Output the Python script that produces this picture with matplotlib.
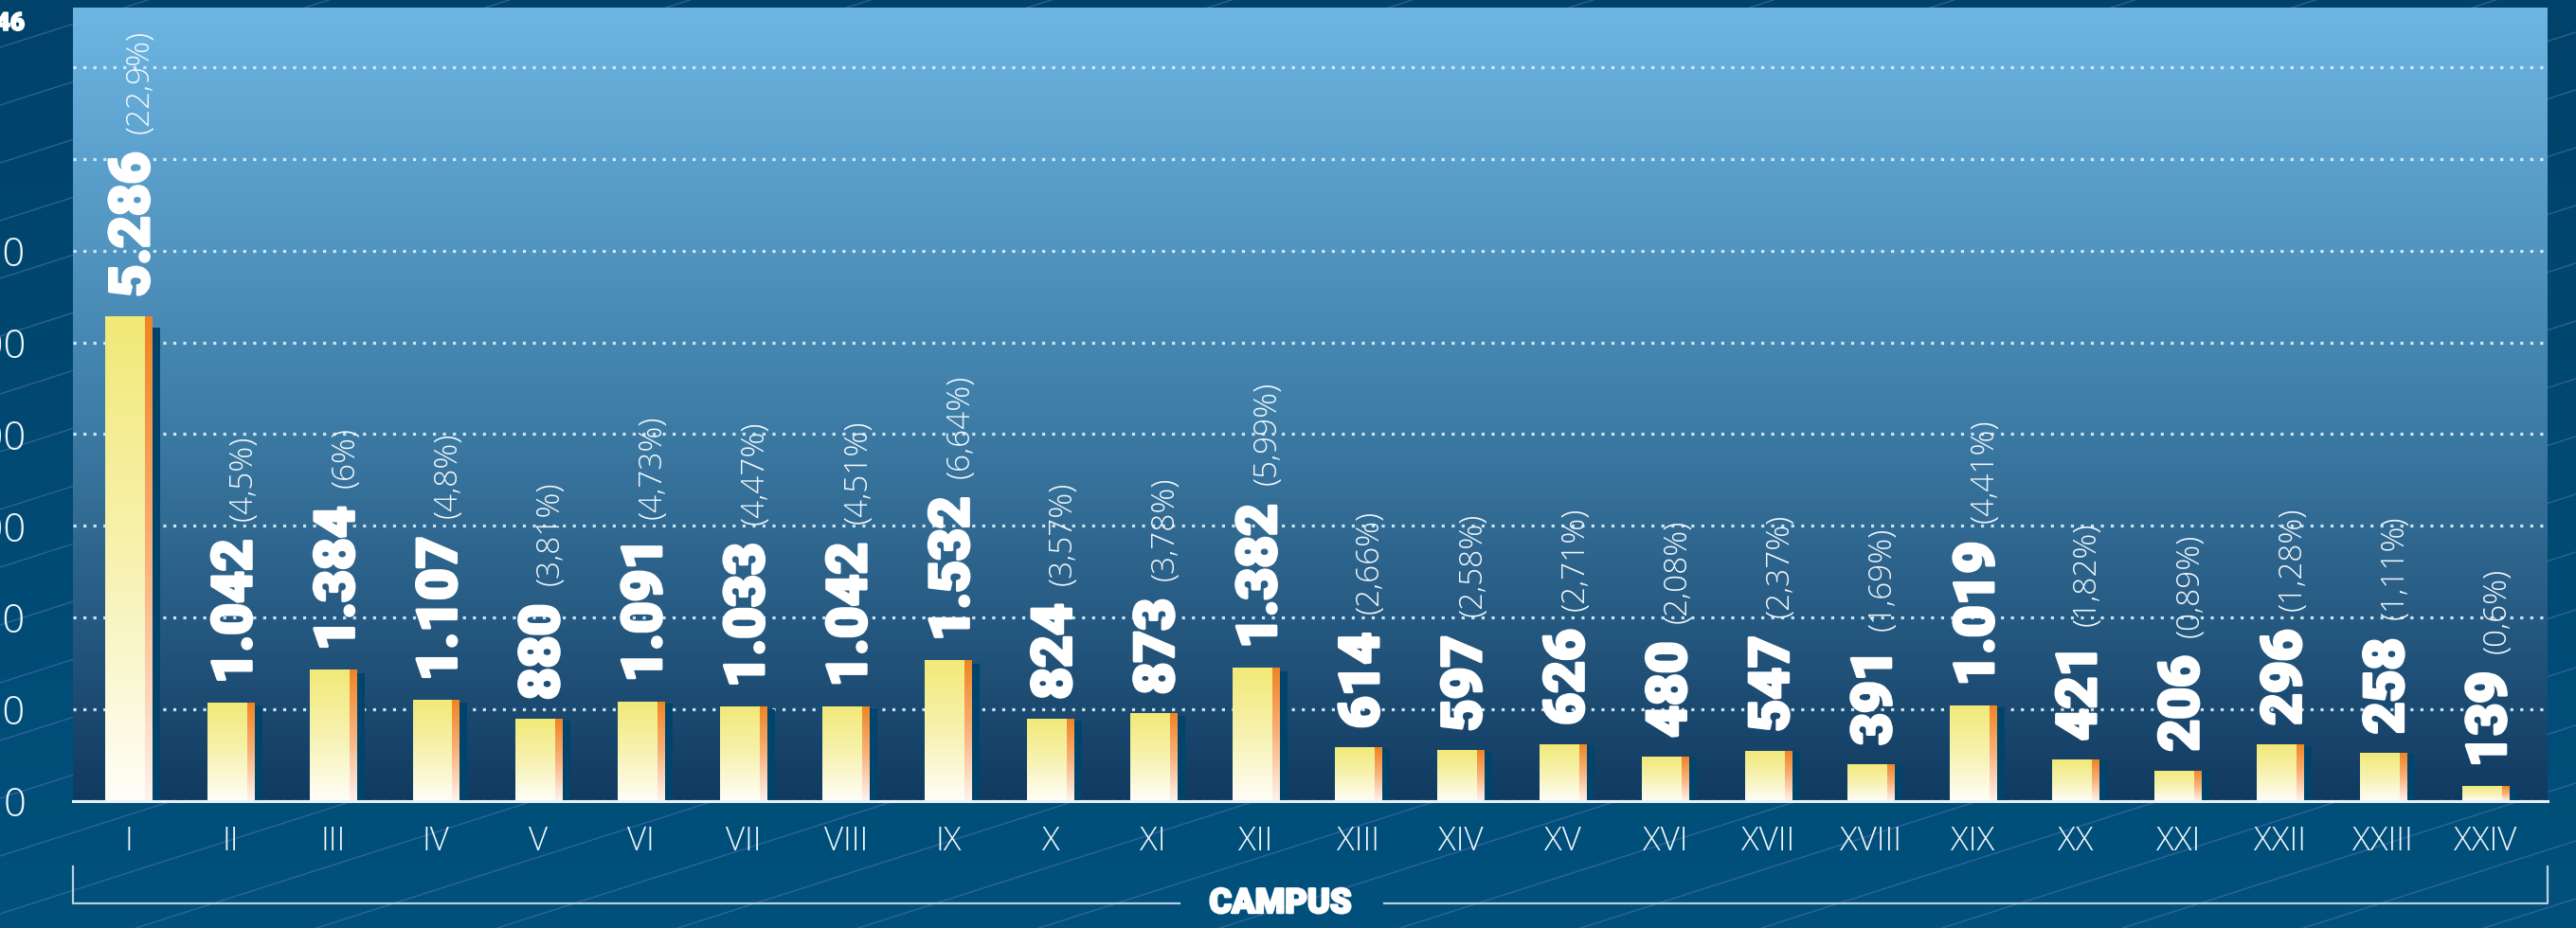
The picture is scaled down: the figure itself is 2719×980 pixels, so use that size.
import numpy as np
import matplotlib
matplotlib.use("Agg")
import matplotlib.pyplot as plt
import matplotlib.patheffects as pe
from matplotlib.colors import LinearSegmentedColormap

# ---------------- data ----------------
campus = ["I", "II", "III", "IV", "V", "VI", "VII", "VIII", "IX", "X", "XI", "XII",
          "XIII", "XIV", "XV", "XVI", "XVII", "XVIII", "XIX", "XX", "XXI", "XXII",
          "XXIII", "XXIV"]
# values printed on the labels
students = [5286, 1042, 1384, 1107, 880, 1091, 1033, 1042, 1532, 824, 873, 1382,
            614, 597, 626, 480, 547, 391, 1019, 421, 206, 296, 258, 139]
bar_heights = [5290, 1070, 1430, 1100, 895, 1087, 1029, 1035, 1535, 900, 955, 1455,
               585, 554, 622, 485, 550, 403, 1045, 451, 334, 619, 523, 160]
shares = [22.9, 4.5, 6, 4.8, 3.81, 4.73, 4.47, 4.51, 6.64, 3.57, 3.78, 5.99,
          2.66, 2.58, 2.71, 2.08, 2.37, 1.69, 4.41, 1.82, 0.89, 1.28, 1.11, 0.6]
y_ticks = [0, 1000, 2000, 3000, 4000, 5000, 6000, 7000, 8000]
y_tick_labels = ["0", "1.000", "2.000", "3.000", "4.000", "5.000", "6.000", "", ""]
total_label = "23.046"
axis_title = "CAMPUS"

# ---------------- figure ----------------
W, H = 2719, 980
fig = plt.figure(figsize=(W / 100, H / 100), dpi=100)
fig.patch.set_facecolor("#004b74")

grad = np.linspace(0, 1, 256).reshape(-1, 1)

# background with diagonal lines
bg = fig.add_axes([0, 0, 1, 1], zorder=-10)
bg_cmap = LinearSegmentedColormap.from_list("bg", ["#00426a", "#01517c"])
bg.imshow(grad, extent=[0, W, 0, H], cmap=bg_cmap, aspect="auto", origin="upper")
xs = np.array([0, W])
for c in np.arange(76 - 61 * 16, H + 61, 61):
    bg.plot(xs, c + 0.32 * xs, color="#5070ae", lw=1.0, alpha=0.6)
bg.set_xlim(0, W)
bg.set_ylim(0, H)
bg.axis("off")

# main axes
ax = fig.add_axes([77 / W, (H - 846) / H, (2689 - 77) / W, (846 - 8) / H])
ax.set_facecolor("none")
ax_cmap = LinearSegmentedColormap.from_list("ax", ["#6db6e3", "#3f7fa9", "#113a60"])
ax.imshow(grad, extent=[0, 1, 0, 1], transform=ax.transAxes, cmap=ax_cmap,
          aspect="auto", origin="upper", zorder=0)

x = np.arange(len(campus))
yw, ow, sw = 0.388, 0.065, 0.083
left = x - (yw + ow) / 2
hts = np.array(bar_heights, dtype=float)

sbars = ax.bar(left + yw + ow, hts * 0.975, width=sw, align="edge",
               color="#00446b", lw=0, zorder=2.6)
ybars = ax.bar(left, hts, width=yw, align="edge", color="none", lw=0, zorder=3)
obars = ax.bar(left + yw, hts, width=ow, align="edge", color="none", lw=0, zorder=3)

ycmap = LinearSegmentedColormap.from_list("y", ["#f2e977", "#f7f2b0", "#fffef8"])
ocmap = LinearSegmentedColormap.from_list("o", ["#f08424", "#f9b27a", "#fff3ee"])
for bars, cm in ((ybars, ycmap), (obars, ocmap)):
    for b in bars:
        x0, y0 = b.get_x(), b.get_y()
        w, h = b.get_width(), b.get_height()
        im = ax.imshow(grad, extent=[x0, x0 + w, y0, y0 + h], cmap=cm,
                       aspect="auto", origin="upper", zorder=3)
        im.set_clip_path(b)

heavy = [pe.withStroke(linewidth=2.2, foreground="white")]

# value labels
for xi, hgt, v, p in zip(x, bar_heights, students, shares):
    vt = ax.annotate(f"{v:,}".replace(",", "."), xy=(xi, hgt), xytext=(15.5, 14.5),
                     textcoords="offset points", rotation=90, rotation_mode="anchor",
                     ha="left", va="baseline", fontsize=42, fontweight=900,
                     family=["Roboto", "DejaVu Sans"], color="white", zorder=6,
                     path_effects=heavy)
    ax.annotate(f"({p:g}%)".replace(".", ","), xy=(xi, 1), xycoords=("data", vt),
                xytext=(15.5, 14), textcoords="offset points", rotation=90,
                rotation_mode="anchor", ha="left", va="baseline", fontsize=24,
                fontweight=300, family=["Open Sans", "Lato", "DejaVu Sans"],
                color="#f2f8fc", zorder=6)

# axes styling
ax.set_xlim(-0.541, 23.608)
ax.set_ylim(0, 8650)
ax.set_yticks(y_ticks)
ax.set_yticklabels(y_tick_labels)
ax.set_xticks(x)
ax.set_xticklabels(campus)
ax.yaxis.grid(True, color="#d8eef9", lw=2.3, linestyle=(0, (1, 2.3)), alpha=0.95)
ax.set_axisbelow(True)
for s in ("left", "right", "top"):
    ax.spines[s].set_visible(False)
ax.spines["bottom"].set_color("#e6f1f8")
ax.spines["bottom"].set_linewidth(2.2)
ax.spines["bottom"].set_zorder(4)
ax.tick_params(axis="both", length=0)
ax.tick_params(axis="y", pad=36, labelsize=30, labelcolor="#f2f8fc")
ax.tick_params(axis="x", pad=18, labelsize=25, labelcolor="#f2f8fc")
for lab in ax.get_xticklabels() + ax.get_yticklabels():
    lab.set_fontfamily(["Open Sans", "Lato", "DejaVu Sans"])
    lab.set_fontweight(300)

# bracket and axis title
yb = (846 - 954) / 838
yt = (846 - 915) / 838
ax.plot([0, 0, 0.447], [yt, yb, yb], transform=ax.transAxes, clip_on=False,
        color="#b9cfdf", lw=1.6)
ax.plot([0.530, 1, 1], [yb, yb, yt], transform=ax.transAxes, clip_on=False,
        color="#b9cfdf", lw=1.6)
ax.text(0.488, yb, axis_title, transform=ax.transAxes, ha="center", va="center",
        fontsize=26, fontweight=900, family=["Roboto", "DejaVu Sans"], color="white",
        path_effects=[pe.withStroke(linewidth=1.8, foreground="white")])

fig.text(26 / W, 1 - 25 / H, total_label, ha="right", va="center", fontsize=19,
         fontweight=900, family=["Roboto", "DejaVu Sans"], color="white",
         path_effects=[pe.withStroke(linewidth=1.2, foreground="white")])

fig.savefig("out.png", dpi=100, facecolor=fig.get_facecolor())
